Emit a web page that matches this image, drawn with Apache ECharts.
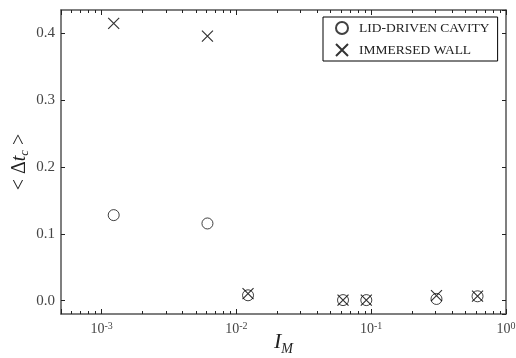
<!DOCTYPE html>
<html>
<head>
<meta charset="utf-8">
<script src="https://cdn.jsdelivr.net/npm/echarts@6/dist/echarts.min.js"></script>
<style>
  html, body { margin: 0; padding: 0; background: #fff; }
  #chart { width: 516px; height: 358px; }
</style>
</head>
<body>
<div id="chart"></div>
<script>
// 数据
const imValues = [0.00123, 0.0061, 0.0122, 0.0618, 0.092, 0.305, 0.615];
const lidDriven = [0.128, 0.1155, 0.008, 0.0008, 0.0008, 0.0025, 0.0065];
const immersedWall = [0.415, 0.396, 0.0105, 0.0008, 0.0008, 0.0075, 0.0068];
const seriesNames = ['LID-DRIVEN CAVITY', 'IMMERSED WALL'];

const serif = '"Liberation Serif", "DejaVu Serif", serif';
const frameColor = '#555';
const crossPath = 'path://M0,0L10,10M10,0L0,10';

function pairs(ys) {
    return imValues.map((x, i) => [x, ys[i]]);
}

function powLabel(v) {
    const e = Math.log10(v);
    if (Math.abs(e - Math.round(e)) > 1e-6) return '';
    return '10{sup|' + Math.round(e) + '}';
}

const xCommon = {
    type: 'log',
    logBase: 10,
    min: 0.0005,
    max: 1,
    axisLine: { show: true, onZero: false, lineStyle: { color: frameColor, width: 1.5 } },
    axisTick: { show: true, inside: true, length: 5, lineStyle: { color: '#222' } },
    minorTick: { show: true, splitNumber: 9, length: 3, lineStyle: { color: '#222' } },
    splitLine: { show: false },
    minorSplitLine: { show: false }
};

const yCommon = {
    type: 'value',
    min: -0.02,
    max: 0.435,
    splitNumber: 5,
    axisLine: { show: true, onZero: false, lineStyle: { color: frameColor, width: 1.5 } },
    axisTick: { show: true, inside: true, length: 4, lineStyle: { color: '#222' } },
    splitLine: { show: false }
};

const chart = echarts.init(document.getElementById('chart'));
const option = {
    backgroundColor: '#fff',
    animation: false,
    grid: { left: 61, right: 10, top: 10, bottom: 44, outerBoundsMode: 'none', containLabel: false },
    legend: {
        data: seriesNames,
        orient: 'vertical',
        left: 323,
        top: 17,
        itemWidth: 12,
        itemHeight: 12,
        itemGap: 8,
        padding: [4, 8, 4, 12],
        borderColor: '#000',
        borderWidth: 1,
        borderRadius: 0,
        backgroundColor: '#fff',
        textStyle: { fontFamily: serif, fontSize: 13.5, color: '#222', padding: [0, 0, 0, 6] }
    },
    xAxis: [
        Object.assign({}, xCommon, {
            position: 'bottom',
            name: '{i|I}{sub|M}',
            nameLocation: 'middle',
            nameGap: 14,
            nameMoveOverlap: false,
            nameTextStyle: {
                rich: {
                    i: { fontFamily: serif, fontStyle: 'italic', fontSize: 22, color: '#222' },
                    sub: { fontFamily: serif, fontStyle: 'italic', fontSize: 14, color: '#222', verticalAlign: 'bottom', padding: [14, 0, 0, 0] }
                }
            },
            axisLabel: {
                margin: 7,
                formatter: powLabel,
                fontFamily: serif,
                fontSize: 14,
                color: '#444',
                rich: {
                    sup: { fontFamily: serif, fontSize: 10, color: '#444', verticalAlign: 'top', padding: [0, 0, 6, 0] }
                }
            }
        }),
        Object.assign({}, xCommon, {
            position: 'top',
            axisLabel: { show: false }
        })
    ],
    yAxis: [
        Object.assign({}, yCommon, {
            position: 'left',
            name: '< Δ{t|t}{sub|c} >',
            nameLocation: 'middle',
            nameGap: 30,
            nameMoveOverlap: false,
            nameRotate: 90,
            nameTextStyle: {
                fontFamily: serif,
                fontSize: 20,
                color: '#222',
                rich: {
                    t: { fontFamily: serif, fontStyle: 'italic', fontSize: 20, color: '#222' },
                    sub: { fontFamily: serif, fontStyle: 'italic', fontSize: 13, color: '#222', padding: [10, 0, 0, 0] }
                }
            },
            axisLabel: {
                margin: 6,
                showMinLabel: false,
                showMaxLabel: false,
                formatter: v => v.toFixed(1),
                fontFamily: serif,
                fontSize: 15,
                color: '#444'
            }
        }),
        Object.assign({}, yCommon, {
            position: 'right',
            axisLabel: { show: false }
        })
    ],
    series: [
        {
            name: seriesNames[0],
            type: 'scatter',
            symbol: 'circle',
            symbolSize: 11,
            itemStyle: { color: 'rgba(0,0,0,0)', borderColor: '#111', borderWidth: 1 },
            data: pairs(lidDriven)
        },
        {
            name: seriesNames[1],
            type: 'scatter',
            symbol: crossPath,
            symbolSize: 11,
            itemStyle: { color: 'rgba(0,0,0,0)', borderColor: '#000', borderWidth: 1.2 },
            data: pairs(immersedWall)
        }
    ]
};
chart.setOption(option);
</script>
</body>
</html>
